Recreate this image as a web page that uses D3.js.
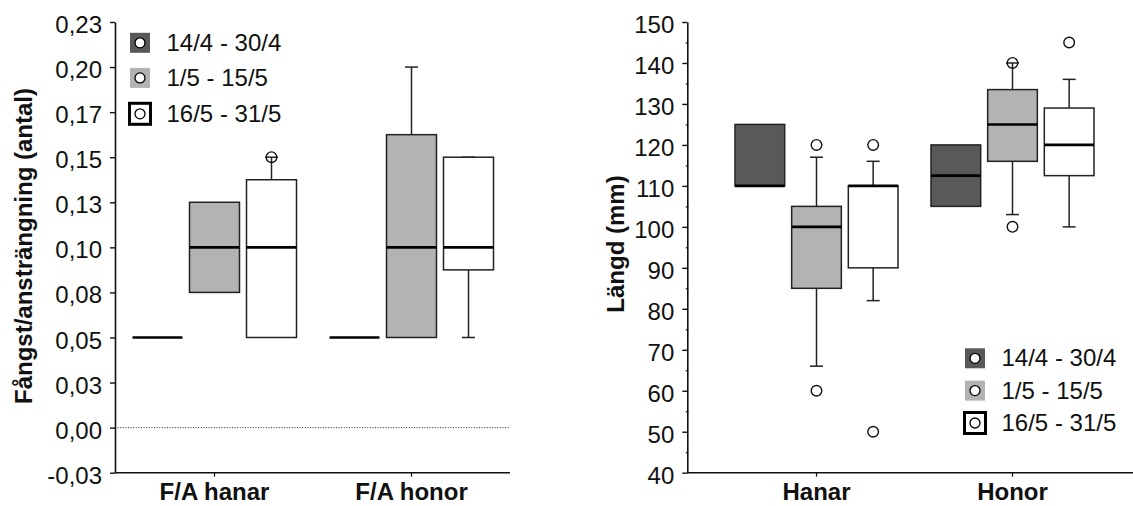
<!DOCTYPE html>
<html>
<head>
<meta charset="utf-8">
<script src="https://cdn.jsdelivr.net/npm/d3@7"></script>
<style>
  html, body { margin: 0; padding: 0; background: #fff; }
  svg { display: block; font-family: "Liberation Sans", Arial, sans-serif; }
</style>
</head>
<body>
<svg id="chart" width="1133" height="506"></svg>
<script>
// ---------- data ----------
const seriesNames = ["14/4 - 30/4", "1/5 - 15/5", "16/5 - 31/5"];
const seriesColors = ["#595959", "#b3b3b3", "#ffffff"];

// Left panel: Fångst/ansträngning
const leftGroups = ["F/A hanar", "F/A honor"];
const leftTickValues = [-0.025, 0, 0.025, 0.05, 0.075, 0.1, 0.125, 0.15, 0.175, 0.2, 0.225];
const leftTickLabels = ["-0,03", "0,00", "0,03", "0,05", "0,08", "0,10", "0,13", "0,15", "0,17", "0,20", "0,23"];
const leftQ1      = [[0.05, 0.075, 0.05],   [0.05, 0.05,   0.0875]];
const leftMedian  = [[0.05, 0.10,  0.10],   [0.05, 0.10,   0.10]];
const leftQ3      = [[0.05, 0.125, 0.1375], [0.05, 0.1625, 0.15]];
const leftWLow    = [[null, null,  null],   [null, null,   0.05]];
const leftWHigh   = [[null, null,  0.15],   [null, 0.20,   0.15]];
const leftOutliers = [[[], [], [0.15]], [[], [], []]];

// Right panel: Längd (mm)
const rightGroups = ["Hanar", "Honor"];
const rightTickValues = [40, 50, 60, 70, 80, 90, 100, 110, 120, 130, 140, 150];
const rightTickLabels = ["40", "50", "60", "70", "80", "90", "100", "110", "120", "130", "140", "150"];
const rightMinorTicks = [45, 55, 65, 75, 85, 95, 105, 115, 125, 135, 145];
const rightQ1     = [[110, 85,  90],  [105,   116,   112.5]];
const rightMedian = [[110, 100, 110], [112.5, 125,   120]];
const rightQ3     = [[125, 105, 110], [120,   133.5, 129]];
const rightWLow   = [[null, 66, 82],  [null,  103,   100]];
const rightWHigh  = [[null, 117, 116],[null,  140,   136]];
const rightOutliers = [[[], [120, 60], [120, 50]], [[], [140, 100], [145]]];

// ---------- drawing ----------
const svg = d3.select("#chart");
const FONT = 24;

function panel(cfg) {
  const g = svg.append("g");
  const y = d3.scaleLinear().domain(cfg.yDomain).range([472.7, 22]);
  const x = d3.scaleBand().domain(cfg.groups).range(cfg.xRange);
  const sub = d3.scaleBand().domain([0, 1, 2]).range([16.5, x.bandwidth() - 16.5]).paddingInner(0.123);

  // dotted zero line
  if (cfg.zeroLine) {
    g.append("line")
      .attr("x1", cfg.axisX).attr("x2", cfg.axisEnd)
      .attr("y1", y(0)).attr("y2", y(0))
      .attr("stroke", "#222").attr("stroke-width", 1)
      .attr("stroke-dasharray", "1,1.6");
  }

  // boxes
  cfg.groups.forEach((grp, gi) => {
    for (let s = 0; s < 3; s++) {
      const x0 = x(grp) + sub(s);
      const w = sub.bandwidth();
      const cx = x0 + w / 2;
      const q1 = cfg.q1[gi][s], q3 = cfg.q3[gi][s], med = cfg.median[gi][s];
      const wl = cfg.wLow[gi][s], wh = cfg.wHigh[gi][s];
      const bg = g.append("g");
      // whiskers
      if (wh !== null) {
        bg.append("line").attr("x1", cx).attr("x2", cx).attr("y1", y(q3)).attr("y2", y(wh))
          .attr("stroke", "#222").attr("stroke-width", 1.5);
        bg.append("line").attr("x1", cx - 6.5).attr("x2", cx + 6.5).attr("y1", y(wh)).attr("y2", y(wh))
          .attr("stroke", "#222").attr("stroke-width", 1.5);
      }
      if (wl !== null) {
        bg.append("line").attr("x1", cx).attr("x2", cx).attr("y1", y(q1)).attr("y2", y(wl))
          .attr("stroke", "#222").attr("stroke-width", 1.5);
        bg.append("line").attr("x1", cx - 6.5).attr("x2", cx + 6.5).attr("y1", y(wl)).attr("y2", y(wl))
          .attr("stroke", "#222").attr("stroke-width", 1.5);
      }
      // box
      bg.append("rect")
        .attr("x", x0).attr("y", y(q3))
        .attr("width", w).attr("height", Math.max(0, y(q1) - y(q3)))
        .attr("fill", seriesColors[s]).attr("stroke", "#222").attr("stroke-width", 1.5);
      // median
      bg.append("line").attr("x1", x0).attr("x2", x0 + w).attr("y1", y(med)).attr("y2", y(med))
        .attr("stroke", "#000").attr("stroke-width", 2.6);
      // outliers
      cfg.outliers[gi][s].forEach(v => {
        bg.append("circle").attr("cx", cx).attr("cy", y(v)).attr("r", 5.3)
          .attr("fill", "none").attr("stroke", "#111").attr("stroke-width", 1.4);
      });
    }
  });

  // y axis
  const yAxis = d3.axisLeft(y)
    .tickValues(cfg.tickValues)
    .tickFormat((d, i) => cfg.tickLabels[i])
    .tickSize(5).tickSizeOuter(0).tickPadding(8);
  const ya = g.append("g").attr("transform", `translate(${cfg.axisX},0)`).call(yAxis);
  ya.select(".domain").attr("stroke", "#111").attr("stroke-width", 1.6);
  ya.selectAll(".tick line").attr("stroke", "#111").attr("stroke-width", 1.4);
  ya.selectAll(".tick text").attr("font-size", FONT).attr("fill", "#111")
    .attr("font-family", "Liberation Sans, Arial, sans-serif").attr("dy", "0.44em");

  if (cfg.minorTicks) {
    const minor = d3.axisLeft(y).tickValues(cfg.minorTicks).tickFormat("").tickSize(2.5).tickSizeOuter(0);
    const ma = g.append("g").attr("transform", `translate(${cfg.axisX + 1},0)`).call(minor);
    ma.select(".domain").remove();
    ma.selectAll(".tick line").attr("stroke", "#111").attr("stroke-width", 1.2);
  }

  // x axis
  g.append("line")
    .attr("x1", cfg.axisX).attr("x2", cfg.axisEnd)
    .attr("y1", 472.7).attr("y2", 472.7)
    .attr("stroke", "#111").attr("stroke-width", 1.6);
  const xAxis = d3.axisBottom(x).tickSize(4).tickSizeOuter(0).tickPadding(6.5);
  const xa = g.append("g").attr("transform", `translate(0,472.7)`).call(xAxis);
  xa.select(".domain").remove();
  xa.selectAll(".tick line").attr("stroke", "#111").attr("stroke-width", 1.2);
  xa.selectAll(".tick text").attr("font-size", FONT).attr("font-weight", "bold").attr("fill", "#111")
    .attr("font-family", "Liberation Sans, Arial, sans-serif");

  // y title
  g.append("text")
    .attr("transform", `translate(${cfg.titleX},${cfg.titleY}) rotate(-90)`)
    .attr("text-anchor", "middle")
    .attr("font-size", FONT).attr("font-weight", "bold").attr("fill", "#111")
    .text(cfg.title);

  // legend
  const lg = g.append("g");
  seriesNames.forEach((name, i) => {
    const cy = cfg.legendY[i];
    const lx = cfg.legendX;
    if (i === 2) {
      lg.append("rect").attr("x", lx - 0.5).attr("y", cy - 10.5).attr("width", 21).attr("height", 21)
        .attr("fill", "#fff").attr("stroke", "#000").attr("stroke-width", 3);
    } else {
      lg.append("rect").attr("x", lx).attr("y", cy - 10).attr("width", 20).attr("height", 20)
        .attr("fill", seriesColors[i]);
    }
    lg.append("circle").attr("cx", lx + 10).attr("cy", cy).attr("r", 5)
      .attr("fill", "#fff").attr("stroke", "#000").attr("stroke-width", 1.3);
    lg.append("text").attr("x", cfg.legendTextX).attr("y", cy + 8)
      .attr("font-size", FONT).attr("fill", "#111").text(name);
  });
}

panel({
  groups: leftGroups, yDomain: [-0.025, 0.225], xRange: [116, 510],
  axisX: 115, axisEnd: 510, zeroLine: true,
  tickValues: leftTickValues, tickLabels: leftTickLabels,
  q1: leftQ1, median: leftMedian, q3: leftQ3, wLow: leftWLow, wHigh: leftWHigh, outliers: leftOutliers,
  title: "Fångst/ansträngning (antal)", titleX: 32, titleY: 246,
  legendX: 130, legendTextX: 166.5, legendY: [42.8, 77.9, 113.8]
});

panel({
  groups: rightGroups, yDomain: [40, 150], xRange: [718.5, 1110.5],
  axisX: 687.3, axisEnd: 1133, zeroLine: false, minorTicks: rightMinorTicks,
  tickValues: rightTickValues, tickLabels: rightTickLabels,
  q1: rightQ1, median: rightMedian, q3: rightQ3, wLow: rightWLow, wHigh: rightWHigh, outliers: rightOutliers,
  title: "Längd (mm)", titleX: 624, titleY: 244,
  legendX: 965, legendTextX: 1001.5, legendY: [358.3, 390.6, 423]
});
</script>
</body>
</html>
